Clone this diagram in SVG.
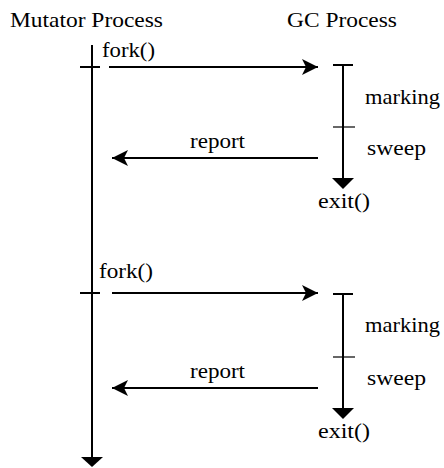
<svg xmlns="http://www.w3.org/2000/svg" width="444" height="468" viewBox="0 0 444 468">
<style>
text{font-family:"Liberation Serif","Times New Roman",serif;font-size:21px;fill:#000}
.ln{stroke:#000;stroke-width:2;fill:none}
.tk{stroke:#000;stroke-width:1.2;fill:none}
.msg{stroke:#000;stroke-width:2.2;fill:none}
</style>
<defs>
<marker id="ah" markerWidth="18" markerHeight="18" refX="16" refY="8" orient="auto" markerUnits="userSpaceOnUse">
<path d="M0,0 L16,8 L0,16 L4,8 Z" fill="#000"/>
</marker>
</defs>
<rect width="444" height="468" fill="#fff"/>
<g id="mutator">
<text x="10" y="27" textLength="153" lengthAdjust="spacingAndGlyphs">Mutator Process</text>
<line class="ln" x1="92" y1="45" x2="92" y2="460"/>
<line class="ln" x1="80" y1="67" x2="100" y2="67"/>
<line class="ln" x1="80" y1="293" x2="100" y2="293"/>
<path d="M81,457 L103,457 L92,467 Z" fill="#000"/>
</g>
<g id="gc1">
<text x="287" y="27" textLength="110" lengthAdjust="spacingAndGlyphs">GC Process</text>
<line class="ln" x1="333" y1="65" x2="353" y2="65"/>
<line class="ln" x1="343" y1="65" x2="343" y2="181"/>
<line class="tk" x1="333" y1="127" x2="355" y2="127"/>
<path d="M332,178 L354,178 L343,189 Z" fill="#000"/>
<text x="365" y="104" textLength="75" lengthAdjust="spacingAndGlyphs">marking</text>
<text x="367" y="155" textLength="59" lengthAdjust="spacingAndGlyphs">sweep</text>
<text x="318" y="208" textLength="52" lengthAdjust="spacingAndGlyphs">exit()</text>
</g>
<g id="gc2">
<line class="ln" x1="333" y1="294" x2="353" y2="294"/>
<line class="ln" x1="343" y1="294" x2="343" y2="411"/>
<line class="tk" x1="333" y1="357" x2="355" y2="357"/>
<path d="M332,408 L354,408 L343,419 Z" fill="#000"/>
<text x="365" y="332" textLength="75" lengthAdjust="spacingAndGlyphs">marking</text>
<text x="367" y="385" textLength="59" lengthAdjust="spacingAndGlyphs">sweep</text>
<text x="318" y="438" textLength="52" lengthAdjust="spacingAndGlyphs">exit()</text>
</g>
<g id="connectors">
<line class="msg" x1="109" y1="67" x2="318" y2="67" marker-end="url(#ah)"/>
<text x="102" y="57" textLength="53" lengthAdjust="spacingAndGlyphs">fork()</text>
<line class="msg" x1="318" y1="158" x2="112" y2="158" marker-end="url(#ah)"/>
<text x="190" y="148" textLength="55" lengthAdjust="spacingAndGlyphs">report</text>
<line class="msg" x1="112" y1="293" x2="318" y2="293" marker-end="url(#ah)"/>
<text x="99" y="278" textLength="54" lengthAdjust="spacingAndGlyphs">fork()</text>
<line class="msg" x1="318" y1="388" x2="112" y2="388" marker-end="url(#ah)"/>
<text x="190" y="378" textLength="55" lengthAdjust="spacingAndGlyphs">report</text>
</g>
</svg>
